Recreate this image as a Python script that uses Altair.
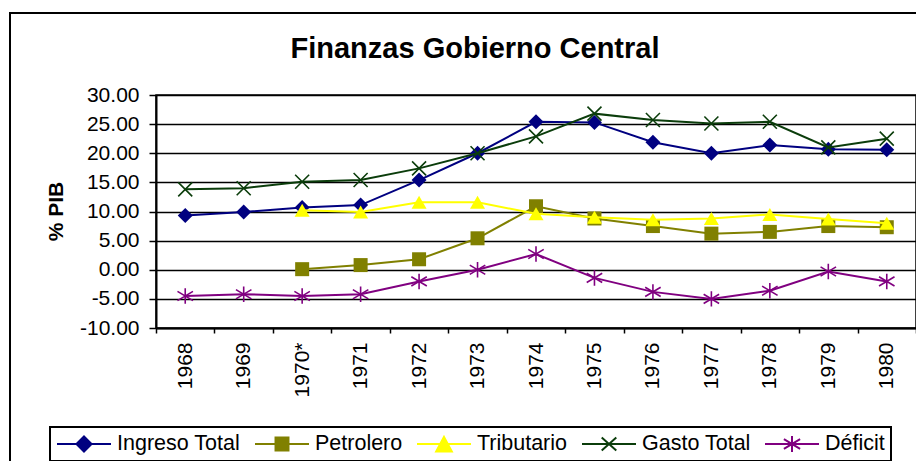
import altair as alt
import pandas as pd

years = ["1968", "1969", "1970*", "1971", "1972", "1973", "1974",
         "1975", "1976", "1977", "1978", "1979", "1980"]
series = ["Ingreso Total", "Petrolero", "Tributario", "Gasto Total", "Déficit"]

ingreso = [9.3, 9.9, 10.7, 11.1, 15.4, 20.0, 25.4, 25.3, 21.9, 20.0, 21.4, 20.7, 20.6]
petrolero = [None, None, 0.1, 0.8, 1.8, 5.4, 10.9, 8.8, 7.5, 6.2, 6.5, 7.5, 7.3]
tributario = [None, None, 10.2, 9.9, 11.6, 11.6, 9.6, 9.0, 8.6, 8.8, 9.5, 8.7, 8.0]
gasto = [13.8, 14.0, 15.1, 15.4, 17.4, 20.0, 22.9, 26.8, 25.7, 25.1, 25.4, 21.0, 22.5]
deficit = [-4.5, -4.2, -4.5, -4.2, -2.0, 0.0, 2.7, -1.4, -3.8, -5.0, -3.6, -0.3, -2.0]

colors = ["#000080", "#808000", "#FFFF00", "#0b3d0b", "#800080"]

values_by_series = [ingreso, petrolero, tributario, gasto, deficit]
rows = []
for s, vals in zip(series, values_by_series):
    for y, v in zip(years, vals):
        if v is not None:
            rows.append({"year": y, "series": s, "value": v})
df = pd.DataFrame(rows)

FONT = "Liberation Sans"

# marker shapes for the data points
marker_shapes = ["diamond", "square", "M0,-0.87L1,0.87L-1,0.87Z",
                 "M-1,-1L1,1M-1,1L1,-1",
                 "M0,-1L0,1M-1,-0.6L1,0.6M-1,0.6L1,-0.6"]
marker_filled = [True, True, True, False, False]
marker_sizes = [225, 196, 225, 196, 240]

# legend symbols: line with marker in the middle
legend_paths = [
    "M-1,0L1,0M0,-0.28L0.28,0L0,0.28L-0.28,0Z",
    "M-1,0L1,0M-0.24,-0.24L0.24,-0.24L0.24,0.24L-0.24,0.24Z",
    "M-1,0L1,0M0,-0.26L0.29,0.28L-0.29,0.28Z",
    "M-1,0L1,0M-0.27,-0.24L0.27,0.24M-0.27,0.24L0.27,-0.24",
    "M-1,0L1,0M0,-0.3L0,0.3M-0.3,-0.18L0.3,0.18M-0.3,0.18L0.3,-0.18",
]

x_enc = alt.X(
    "year:N",
    sort=years,
    scale=alt.Scale(type="band", domain=years, paddingInner=0, paddingOuter=0),
    axis=alt.Axis(
        title=None, labelAngle=270, labelAlign="right", labelBaseline="middle",
        labelFontSize=21, labelFont=FONT, labelColor="black", labelPadding=9,
        tickBand="extent", tickSize=5, tickColor="black", tickWidth=1.5,
        domainColor="black", domainWidth=2, grid=False,
    ),
)
y_enc = alt.Y(
    "value:Q",
    scale=alt.Scale(domain=[-10, 30], nice=False, zero=False),
    axis=alt.Axis(
        values=[-10, -5, 0, 5, 10, 15, 20, 25, 30],
        labelExpr="replace(format(datum.value, '.2f'), '\u2212', '-')",
        labelFontSize=21, labelFont=FONT, labelColor="black", labelPadding=10,
        tickSize=7, tickColor="black", tickWidth=1.5,
        domainColor="black", domainWidth=2,
        grid=True, gridColor="black", gridWidth=1.3,
        title="% PIB", titleFontSize=21, titleFont=FONT, titleFontWeight="bold",
        titleColor="black", titleAngle=270, titleX=-100, titleY=116,
        titleAlign="center", titleBaseline="middle",
    ),
)

base = alt.Chart(df)

frame = alt.Chart(pd.DataFrame({"k": [0]})).mark_rect(
    fillOpacity=0, stroke="black", strokeWidth=2
).encode(
    x=alt.value(-146), x2=alt.value(1000), y=alt.value(-82), y2=alt.value(700)
)

layers = [frame]
for i, s in enumerate(series):
    line = base.transform_filter(alt.datum.series == s).mark_line(
        strokeWidth=2, color=colors[i]
    ).encode(x=x_enc, y=y_enc)
    pts = base.transform_filter(alt.datum.series == s).mark_point(
        shape=marker_shapes[i], filled=marker_filled[i], size=marker_sizes[i],
        color=colors[i], opacity=1, strokeWidth=1.6,
    ).encode(x=x_enc, y=y_enc)
    layers += [line, pts]

legend_layer = base.transform_filter("false").mark_point(
    filled=True, opacity=1
).encode(
    fill=alt.Fill("series:N", scale=alt.Scale(domain=series, range=colors),
                  legend=alt.Legend(title=None)),
    stroke=alt.Stroke("series:N", scale=alt.Scale(domain=series, range=colors),
                      legend=alt.Legend(title=None)),
    shape=alt.Shape("series:N", scale=alt.Scale(domain=series, range=legend_paths),
                    legend=alt.Legend(title=None)),
)
layers.append(legend_layer)

chart = alt.layer(*layers).properties(
    width=760,
    height=233,
    autosize=alt.AutoSizeParams(type="none"),
    padding={"left": 148, "top": 87, "right": 0, "bottom": 133},
    title=alt.Title(
        "Finanzas Gobierno Central", font=FONT, fontSize=29, fontWeight="bold",
        color="black", anchor="middle", dx=-61, offset=22, dy=97,
        baseline="alphabetic",
    ),
).configure(
    font=FONT,
).configure_view(
    stroke="black", strokeWidth=1.5,
).configure_legend(
    orient="none", legendX=-106, legendY=332, direction="horizontal",
    strokeColor="black", strokeWidth=2, fillColor="white", padding=6,
    clipHeight=22, symbolSize=2916, symbolStrokeWidth=2,
    labelFontSize=21.5, labelFont=FONT, labelColor="black",
    labelOffset=5, columnPadding=13, symbolOpacity=1,
)

chart.save("out.html", embed_options={"renderer": "svg", "actions": False})
